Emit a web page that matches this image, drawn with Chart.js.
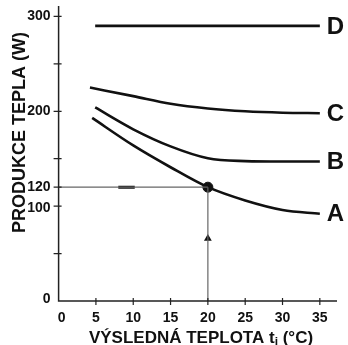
<!DOCTYPE html>
<html>
<head>
<meta charset="utf-8">
<script src="https://cdn.jsdelivr.net/npm/chart.js@4"></script>
<style>
  html, body { margin: 0; padding: 0; background: #fff; }
</style>
</head>
<body>
<canvas id="chart" width="348" height="345"></canvas>
<script>
// curve A, B, C, D: resulting temperature (°C) vs heat production (W)
const tempsA = [4.5, 10, 15, 20, 25, 30, 35];
const heatA  = [193, 164, 141, 120, 106, 96, 92];
const tempsB = [4.9, 10, 15, 20, 25, 30, 35];
const heatB  = [204, 181, 163, 150.5, 147.5, 147, 147];
const tempsC = [4.2, 10, 15, 20, 25, 30, 35];
const heatC  = [225, 216, 208, 203, 200, 198.5, 198];
const tempsD = [4.9, 35];
const heatD  = [290, 290];
const curveNames = ['A', 'B', 'C', 'D'];

// worked example read-off
const exampleTemp = 20;
const exampleHeat = 120;
const arrowLeftTemps = [8.0, 10.2];
const arrowUpHeat = 66;

// axes
const xTicks = [0, 5, 10, 15, 20, 25, 30, 35];
const yTicks = [0, 100, 120, 200, 300];
const yMinorTicks = [50, 150, 250];

const pts = (xs, ys) => xs.map((x, i) => ({ x: x, y: ys[i] }));

const curve = (name, xs, ys) => ({
    label: name,
    data: pts(xs, ys),
    borderColor: '#111',
    borderWidth: 2.6,
    pointRadius: 0,
    cubicInterpolationMode: 'monotone',
    isCurve: true
});

const guide = (data, width, color) => ({
    data: data,
    borderColor: color,
    borderWidth: width,
    pointRadius: 0,
    tension: 0
});

const axesPlugin = {
    id: 'axes',
    afterDraw(chart) {
        const ctx = chart.ctx;
        const xs = chart.scales.x;
        const ys = chart.scales.y;
        const area = chart.chartArea;
        const x0 = xs.getPixelForValue(0);
        const y0 = ys.getPixelForValue(0);

        ctx.save();
        ctx.strokeStyle = '#222';
        ctx.lineWidth = 1.5;
        ctx.beginPath();
        ctx.moveTo(x0, area.top);
        ctx.lineTo(x0, y0);
        ctx.lineTo(area.right, y0);
        ctx.stroke();

        // tick marks crossing the axes
        ctx.lineWidth = 1.2;
        ctx.beginPath();
        xTicks.slice(1).forEach(v => {
            const px = xs.getPixelForValue(v);
            ctx.moveTo(px, y0 - 3);
            ctx.lineTo(px, y0 + 4);
        });
        yTicks.concat(yMinorTicks).slice(1).forEach(v => {
            const py = ys.getPixelForValue(v);
            ctx.moveTo(x0 - 5, py);
            ctx.lineTo(x0 + 3, py);
        });
        ctx.stroke();

        // tick labels
        ctx.fillStyle = '#111';
        ctx.font = 'bold 14px "Liberation Sans", Arial, sans-serif';
        ctx.textAlign = 'center';
        ctx.textBaseline = 'middle';
        xTicks.forEach(v => {
            ctx.fillText(String(v), xs.getPixelForValue(v) + (v === 0 ? 3 : 0), y0 + 17);
        });
        ctx.textAlign = 'right';
        yTicks.forEach(v => {
            const py = ys.getPixelForValue(v) + (v === 0 ? -2 : v === 100 ? 2 : 0);
            ctx.fillText(String(v), x0 - 8, py);
        });

        // curve letters at the right end
        ctx.font = 'bold 24px "Liberation Sans", Arial, sans-serif';
        ctx.textAlign = 'left';
        chart.data.datasets.forEach(ds => {
            if (!ds.isCurve) return;
            const last = ds.data[ds.data.length - 1];
            ctx.fillText(ds.label, xs.getPixelForValue(last.x) + 7, ys.getPixelForValue(last.y) + 1);
        });

        // x axis title with subscript
        const bigFont = 'bold 17px "Liberation Sans", Arial, sans-serif';
        const subFont = 'bold 12px "Liberation Sans", Arial, sans-serif';
        const partA = 'VÝSLEDNÁ TEPLOTA t';
        const partB = 'i';
        const partC = ' (°C)';
        ctx.font = bigFont;
        const wA = ctx.measureText(partA).width;
        const wC = ctx.measureText(partC).width;
        ctx.font = subFont;
        const wB = ctx.measureText(partB).width;
        let tx = 201 - (wA + wB + wC) / 2;
        const base = 343;
        ctx.textBaseline = 'alphabetic';
        ctx.font = bigFont;
        ctx.fillText(partA, tx, base);
        tx += wA;
        ctx.font = subFont;
        ctx.fillText(partB, tx, base + 3);
        tx += wB;
        ctx.font = bigFont;
        ctx.fillText(partC, tx, base);

        // y axis title
        ctx.translate(24.5, 132.5);
        ctx.rotate(-Math.PI / 2);
        ctx.textAlign = 'center';
        ctx.font = 'bold 18px "Liberation Sans", Arial, sans-serif';
        ctx.fillText('PRODUKCE TEPLA (W)', 0, 0);
        ctx.restore();
    }
};

new Chart(document.getElementById('chart'), {
    type: 'line',
    data: {
        datasets: [
            guide([{ x: 0, y: exampleHeat }, { x: exampleTemp, y: exampleHeat }], 1.2, '#666'),
            guide([{ x: exampleTemp, y: 0 }, { x: exampleTemp, y: exampleHeat }], 1.2, '#666'),
            guide(arrowLeftTemps.map(t => ({ x: t, y: exampleHeat })), 3, '#111'),
            {
                data: [{ x: exampleTemp, y: arrowUpHeat }],
                pointStyle: 'triangle',
                pointRadius: 4.5,
                backgroundColor: '#111',
                borderColor: '#111',
                borderWidth: 0,
                showLine: false
            },
            curve(curveNames[0], tempsA, heatA),
            curve(curveNames[1], tempsB, heatB),
            curve(curveNames[2], tempsC, heatC),
            curve(curveNames[3], tempsD, heatD),
            {
                data: [{ x: exampleTemp, y: exampleHeat }],
                pointRadius: 5,
                backgroundColor: '#111',
                borderColor: '#111',
                showLine: false
            }
        ]
    },
    options: {
        responsive: false,
        animation: false,
        devicePixelRatio: 1,
        layout: { padding: { top: 5, right: 11, left: 0, bottom: 0 } },
        plugins: {
            legend: { display: false },
            tooltip: { enabled: false }
        },
        scales: {
            x: {
                type: 'linear',
                min: 0,
                max: 37.3,
                ticks: { display: false },
                grid: { display: false },
                border: { display: false },
                afterFit(s) { s.height = 44; }
            },
            y: {
                min: 0,
                max: 311,
                ticks: { display: false },
                grid: { display: false },
                border: { display: false },
                afterFit(s) { s.width = 58.6; }
            }
        }
    },
    plugins: [axesPlugin]
});
</script>
</body>
</html>
